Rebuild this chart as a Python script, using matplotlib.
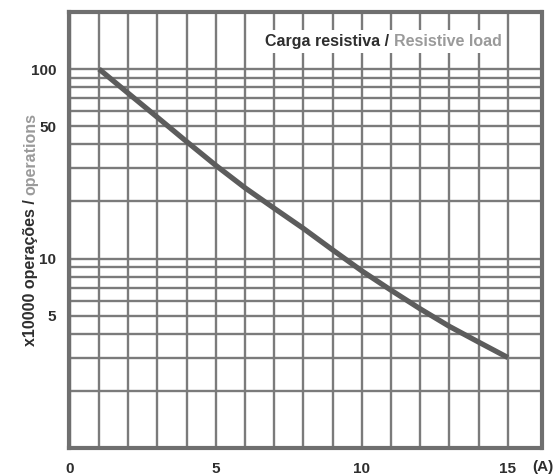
import matplotlib
matplotlib.use("Agg")
import matplotlib.pyplot as plt
from matplotlib.ticker import NullFormatter

# current (A) vs. electrical life (x10000 operations), resistive load
current = [1, 2, 3, 4, 5, 6, 7, 8, 9, 10, 11, 12, 13, 14, 15]
operations = [100, 74.5, 55.6, 41.4, 31, 23.6, 18.4, 14.4, 11.1, 8.6, 6.8, 5.42, 4.38, 3.62, 3.0]

x_ticks = [0, 5, 10, 15]
x_grid = list(range(1, 16))
y_ticks = [5, 10, 50, 100]
y_grid = [2, 3, 4, 6, 7, 8, 9, 20, 30, 40, 60, 70, 80, 90]

DARK = "#2e2e2e"
LIGHT = "#9a9a9a"
GRID = "#7b7b7b"
FONT = "Liberation Sans"

W, H = 556, 476
fig = plt.figure(figsize=(W / 100, H / 100), dpi=100)
ax = fig.add_axes([68.5 / W, 1 - 448 / H, (541.5 - 68.5) / W, (448 - 12) / H])

ax.plot(current, operations, color="#5c5c5c", lw=3.8, solid_capstyle="butt",
        solid_joinstyle="round", zorder=2)

ax.set_yscale("log")
ax.set_ylim(1, 200)
ax.set_xlim(-0.045, 16.15)

ax.set_xticks(x_ticks)
ax.set_xticklabels([str(v) for v in x_ticks])
ax.set_xticks(x_grid, minor=True)
ax.set_yticks(y_ticks)
ax.set_yticklabels([str(v) for v in y_ticks])
ax.set_yticks(y_grid, minor=True)
ax.yaxis.set_minor_formatter(NullFormatter())

ax.tick_params(which="both", length=0, labelcolor=DARK)
ax.tick_params(axis="y", pad=9)
ax.tick_params(axis="x", pad=10)
for lab in ax.get_xticklabels() + ax.get_yticklabels():
    lab.set_fontfamily(FONT)
    lab.set_fontweight("bold")
    lab.set_fontsize(11)

ax.grid(which="both", color=GRID, lw=1.7)
for sp in ax.spines.values():
    sp.set_color("#6f6f6f")
    sp.set_linewidth(3)

fig.text(543 / W, 1 - 467 / H, "(A)", ha="center", va="center",
         family=FONT, weight="bold", fontsize=11, color=DARK)


def two_tone(x_px, y_px, first, second, rotation=0, box=False):
    # place two differently coloured strings on one baseline
    kw = dict(family=FONT, weight="bold", fontsize=11.5, ha="left",
              va="baseline", rotation=rotation, rotation_mode="anchor", zorder=5)
    if box:
        kw["bbox"] = dict(facecolor="white", edgecolor="none", pad=3)
    t1 = fig.text(x_px / W, 1 - y_px / H, first, color=DARK, **kw)
    fig.canvas.draw()
    ext = t1.get_window_extent()
    gap = 0.278 * 11.5 * 100 / 72
    if rotation == 0:
        x2, y2 = x_px + ext.width + gap, y_px
    else:
        x2, y2 = x_px, y_px - ext.height - gap
    fig.text(x2 / W, 1 - y2 / H, second, color=LIGHT, **kw)


two_tone(265, 46, "Carga resistiva /", "Resistive load", box=True)
two_tone(35, 346, "x10000 operações /", "operations", rotation=90)

fig.savefig("out.png", dpi=100)
